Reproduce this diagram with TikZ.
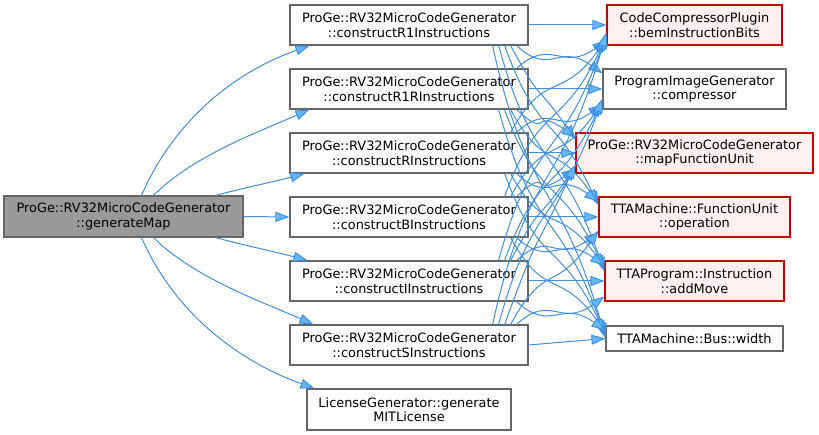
\documentclass[tikz,border=0pt]{standalone}
\usepackage{fontspec}
\setmainfont{DejaVu Sans}
\usepackage{xcolor}
\usepackage{tikz}
\usetikzlibrary{
  arrows.meta,
  positioning,
  calc
}
\definecolor{CallEdge}{HTML}{63B8FF}
\definecolor{CallLine}{HTML}{3F8FDC}
\definecolor{CallBorder}{HTML}{666666}
\definecolor{CallMain}{HTML}{999999}
\definecolor{CallFill}{HTML}{FCFDFC}
\definecolor{ExtBorder}{HTML}{CC0000}
\definecolor{ExtFill}{HTML}{FFF0F0}

\tikzset{
  callnode/.style={draw=CallBorder,fill=CallFill,line width=1.2pt,align=center,
    inner sep=0pt,minimum height=40pt,
    font=\fontsize{12.9}{14.5}\selectfont},
  mainnode/.style={callnode,fill=CallMain},
  extnode/.style={callnode,draw=ExtBorder,fill=ExtFill},
  calledge/.style={draw=CallLine,line width=1pt,
    -{Triangle[length=14pt,width=10pt,fill=CallEdge]}}
}

\begin{document}
\begin{tikzpicture}[x=1pt,y=-1pt]
    \useasboundingbox (0,0) rectangle (819,435);
    % caller
    \node[mainnode,minimum width=239pt,minimum height=41pt] (gen) at (123.5,216.5)
      {ProGe::RV32MicroCodeGenerator\\::generateMap};
    % direct callees
    \node[callnode,minimum width=238pt] (r1)  at (409,25)  {ProGe::RV32MicroCodeGenerator\\::constructR1Instructions};
    \node[callnode,minimum width=238pt] (r1r) at (409,89)  {ProGe::RV32MicroCodeGenerator\\::constructR1RInstructions};
    \node[callnode,minimum width=238pt] (r)   at (409,153) {ProGe::RV32MicroCodeGenerator\\::constructRInstructions};
    \node[callnode,minimum width=238pt] (b)   at (409,217) {ProGe::RV32MicroCodeGenerator\\::constructBInstructions};
    \node[callnode,minimum width=238pt] (i)   at (409,281) {ProGe::RV32MicroCodeGenerator\\::constructIInstructions};
    \node[callnode,minimum width=238pt] (s)   at (409,345) {ProGe::RV32MicroCodeGenerator\\::constructSInstructions};
    \node[callnode,minimum width=204pt,minimum height=41pt] (lic) at (409,409.5) {LicenseGenerator::generate\\MITLicense};
    % second level
    \node[extnode,minimum width=175pt]  (bem)      at (694.5,25)  {CodeCompressorPlugin\\::bemInstructionBits};
    \node[callnode,minimum width=183pt] (comp)     at (694.5,89)  {ProgramImageGenerator\\::compressor};
    \node[extnode,minimum width=237pt]  (mapfu)    at (694.5,153) {ProGe::RV32MicroCodeGenerator\\::mapFunctionUnit};
    \node[extnode,minimum width=191pt]  (oper)     at (694.5,217) {TTAMachine::FunctionUnit\\::operation};
    \node[extnode,minimum width=179pt]  (addmove)  at (694.5,281) {TTAProgram::Instruction\\::addMove};
    \node[callnode,minimum width=177pt,minimum height=25pt] (buswidth) at (694.5,338.5) {TTAMachine::Bus::width};

    % calls from generateMap
    \draw[calledge] ([xshift=18]gen.north) .. controls +(35,-80) and +(-70,25) .. ([xshift=20]r1.south west);
    \draw[calledge] ([xshift=30]gen.north) .. controls +(40,-40) and +(-50,22) .. ([xshift=20]r1r.south west);
    \draw[calledge] ([xshift=-28]gen.north east) .. controls +(30,-8) and +(-30,8) .. ([xshift=15]r.south west);
    \draw[calledge] (gen.east) -- (b.west);
    \draw[calledge] ([xshift=-28]gen.south east) .. controls +(30,8) and +(-30,-8) .. ([xshift=18]i.north west);
    \draw[calledge] ([xshift=30]gen.south) .. controls +(40,40) and +(-50,-22) .. ([xshift=24]s.north west);
    \draw[calledge] ([xshift=18]gen.south) .. controls +(35,80) and +(-70,-25) .. ([xshift=8]lic.north west);

    % calls from the construct functions
    \foreach \src [count=\si] in {r1,r1r,r,b,i,s}{
      \foreach \tgt [count=\ti] in {bem,comp,mapfu,oper,addmove,buswidth}{
        \pgfmathtruncatemacro{\n}{\ti-\si}
        \pgfmathtruncatemacro{\m}{abs(\n)}
        \pgfmathsetmacro{\dy}{0.5*64*\m}
        \ifnum\n=0
          \draw[calledge] (\src.east) -- (\tgt.west);
        \else\ifnum\n>0
          \draw[calledge] ([xshift={-6-6*\m}]\src.south east)
            .. controls +(35,\dy) and +(-45,-\dy) .. ([yshift={-3-2*\m}]\tgt.north west);
        \else
          \draw[calledge] ([xshift={-6-6*\m}]\src.north east)
            .. controls +(35,-\dy) and +(-45,\dy) .. ([yshift={3+2*\m}]\tgt.south west);
        \fi\fi
      }
    }
  \end{tikzpicture}
\end{document}
